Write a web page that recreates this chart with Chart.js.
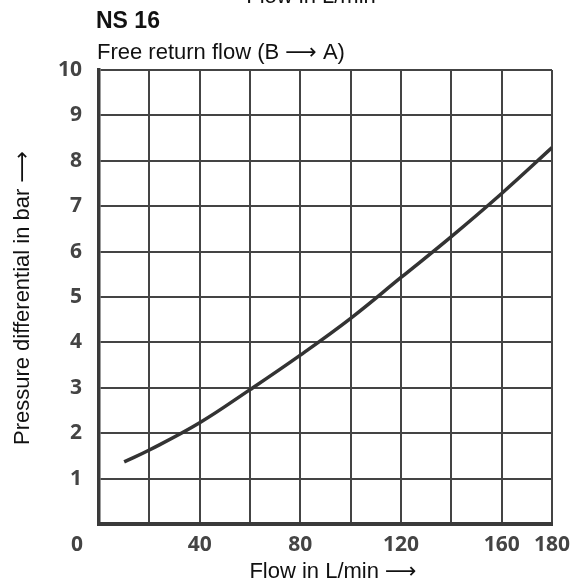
<!DOCTYPE html>
<html><head><meta charset="utf-8">
<script src="https://cdn.jsdelivr.net/npm/chart.js@4"></script>
<style>html,body{margin:0;padding:0;background:#fff}#wrap{width:580px;height:585px;position:relative}</style>
</head><body><div id="wrap"><canvas id="c" width="580" height="585"></canvas></div>
<script>
const flow = [10, 20, 40, 60, 80, 100, 120, 140, 160, 180];
const pressure = [1.37, 1.63, 2.23, 2.96, 3.72, 4.53, 5.43, 6.33, 7.28, 8.29];
const xTickLabels = [40, 80, 120, 160, 180];
const yTickLabels = [1, 2, 3, 4, 5, 6, 7, 8, 9, 10];
const headTitle = 'NS 16';
const subTitle = ['Free return flow (B ', '\u27F6', ' A)'];
const cutTopText = 'Flow in L/min';
const xTitle = ['Flow in L/min ', '\u27F6'];
const yTitle = ['Pressure differential in bar ', '\u27F6'];

const points = flow.map((f, i) => ({x: f, y: pressure[i]}));

const TXT = '22px "Liberation Sans", Arial, sans-serif';
const ARW = '22px "DejaVu Sans", sans-serif';

function drawMixed(ctx, parts, x, y, align) {
  const fonts = parts.map(p => p === '\u27F6' ? ARW : TXT);
  const widths = parts.map((p, i) => { ctx.font = fonts[i]; return ctx.measureText(p).width; });
  const total = widths.reduce((a, b) => a + b, 0);
  let cx = align === 'center' ? x - total / 2 : x;
  ctx.textAlign = 'left';
  parts.forEach((p, i) => { ctx.font = fonts[i]; ctx.fillText(p, cx, y); cx += widths[i]; });
}

const textPlugin = {
  id: 'texts',
  afterDraw(chart) {
    const ctx = chart.ctx;
    const xs = chart.scales.x;
    ctx.save();
    ctx.fillStyle = '#111';
    ctx.textBaseline = 'alphabetic';
    ctx.textAlign = 'center';
    ctx.font = TXT;
    ctx.fillText(cutTopText, 311, 3);
    ctx.textAlign = 'left';
    ctx.font = 'bold 23px "Liberation Sans", Arial, sans-serif';
    ctx.fillText(headTitle, 96, 28);
    drawMixed(ctx, subTitle, 97, 59, 'left');
    drawMixed(ctx, xTitle, 333, 578, 'center');
    ctx.save();
    ctx.translate(29, 298);
    ctx.rotate(-Math.PI / 2);
    drawMixed(ctx, yTitle, 0, 0, 'center');
    ctx.restore();
    ctx.fillStyle = '#444';
    ctx.textAlign = 'center';
    ctx.textBaseline = 'middle';
    ctx.font = 'bold 21px "Open Sans", sans-serif';
    ctx.fillText('0', xs.getPixelForValue(0) - 22, 545);
    ctx.restore();
  }
};

new Chart(document.getElementById('c'), {
  type: 'line',
  data: {
    datasets: [{
      data: points,
      borderColor: '#333',
      borderWidth: 3.5,
      pointRadius: 0,
      fill: false,
      tension: 0.4
    }]
  },
  options: {
    responsive: false,
    animation: false,
    devicePixelRatio: 1,
    layout: {padding: {top: 70, right: 28, bottom: 0, left: 0}},
    plugins: {legend: {display: false}, tooltip: {enabled: false}},
    scales: {
      x: {
        type: 'linear', min: 0, max: 180,
        afterFit: s => { s.height = 61; },
        grid: {color: '#444', lineWidth: 2, drawTicks: false},
        border: {display: true, color: '#3a3a3a', width: 4},
        ticks: {
          stepSize: 20, autoSkip: false, maxRotation: 0, padding: 8,
          color: '#444', font: {family: '"Open Sans", sans-serif', size: 21, weight: 'bold'},
          callback: v => xTickLabels.includes(v) ? String(v) : ''
        }
      },
      y: {
        type: 'linear', min: 0, max: 10,
        afterFit: s => { s.width = 99; },
        grid: {color: '#444', lineWidth: 2, drawTicks: false},
        border: {display: true, color: '#3a3a3a', width: 3.5},
        ticks: {
          stepSize: 1, autoSkip: false, padding: 17,
          color: '#444', font: {family: '"Open Sans", sans-serif', size: 21, weight: 'bold'},
          callback: v => yTickLabels.includes(v) ? String(v) : ''
        }
      }
    }
  },
  plugins: [textPlugin]
});
</script></body></html>
